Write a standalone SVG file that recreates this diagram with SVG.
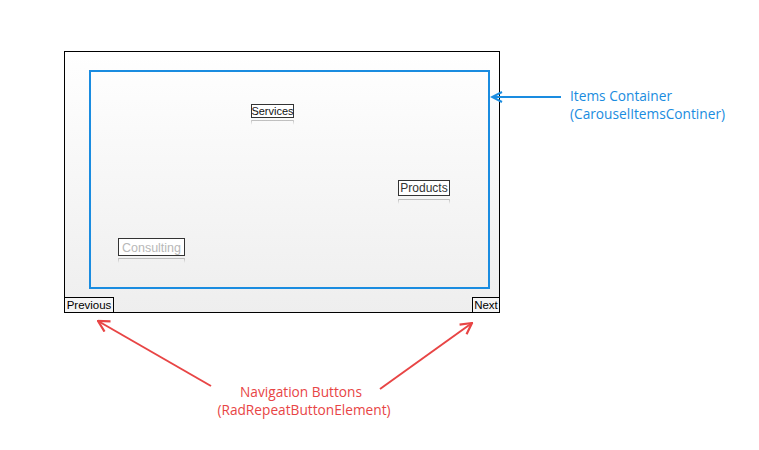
<svg xmlns="http://www.w3.org/2000/svg" width="759" height="450" viewBox="0 0 759 450">
<defs>
<linearGradient id="bg" x1="0" y1="0" x2="0" y2="1">
<stop offset="0" stop-color="#ffffff"/>
<stop offset="1" stop-color="#eeeeee"/>
</linearGradient>
<linearGradient id="refl" x1="0" y1="0" x2="0" y2="1">
<stop offset="0" stop-color="#999" stop-opacity="0.6"/>
<stop offset="1" stop-color="#999" stop-opacity="0"/>
</linearGradient>
<marker id="blueHead" viewBox="0 0 14 14" refX="12" refY="7" markerWidth="14" markerHeight="14" markerUnits="userSpaceOnUse" orient="auto">
<path d="M2,2 L12,7 L2,12" fill="none" stroke="#1a8ce0" stroke-width="2"/>
</marker>
<marker id="redHead" viewBox="0 0 14 14" refX="13" refY="7" markerWidth="14" markerHeight="14" markerUnits="userSpaceOnUse" orient="auto">
<path d="M2,1 L13,7 L2,13" fill="none" stroke="#e84545" stroke-width="2.2"/>
</marker>
</defs>
<style>
.item{fill:#ffffff;stroke:#333;stroke-width:1}
.itxt{font-family:"Liberation Sans",Arial,sans-serif;font-size:11px;fill:#111}
.btn{fill:#f4f4f4;stroke:#000;stroke-width:1}
.btxt{font-family:"Liberation Sans",Arial,sans-serif;font-size:11.5px;fill:#000}
.note{font-family:"Open Sans","Noto Sans",sans-serif;font-size:13.7px}
.blue{fill:#1a8ce0}
.red{fill:#e84545}
.rf{fill:none;stroke:url(#refl);stroke-width:1}
</style>
<g id="carousel">
<rect x="64.5" y="51.5" width="435" height="261" fill="url(#bg)" stroke="#000" stroke-width="1"/>
</g>
<g id="items-container">
<rect x="90" y="71" width="399" height="217" fill="none" stroke="#1a8ce0" stroke-width="2"/>
</g>
<g id="item-services">
<rect class="item" x="251.5" y="104.5" width="42" height="13"/>
<text class="itxt" x="272.5" y="115" text-anchor="middle">Services</text>
<path class="rf" d="M251.5,125 V120.5 H293.5 V125"/>
</g>
<g id="item-products">
<rect class="item" x="398.5" y="180.5" width="51" height="15" stroke="#555"/>
<text class="itxt" x="424" y="192" text-anchor="middle" style="font-size:12px;fill:#333">Products</text>
<path class="rf" d="M398.5,204 V199.5 H449.5 V204"/>
</g>
<g id="item-consulting">
<rect class="item" x="118.5" y="238.5" width="66" height="17" stroke="#aaa" fill="#f8f8f8"/>
<text class="itxt" x="151.5" y="251.5" text-anchor="middle" style="font-size:12.5px;fill:#b8b8b8">Consulting</text>
<path class="rf" d="M118.5,263 V258.5 H184.5 V263"/>
</g>
<g id="btn-previous">
<rect class="btn" x="64.5" y="297.5" width="49" height="15"/>
<text class="btxt" x="89" y="309" text-anchor="middle">Previous</text>
</g>
<g id="btn-next">
<rect class="btn" x="472.5" y="297.5" width="27" height="15"/>
<text class="btxt" x="486" y="309" text-anchor="middle">Next</text>
</g>
<g id="connectors">
<line x1="561" y1="97" x2="492" y2="97" stroke="#1a8ce0" stroke-width="2" marker-end="url(#blueHead)"/>
<line x1="211" y1="386" x2="98" y2="321" stroke="#e84545" stroke-width="2" marker-end="url(#redHead)"/>
<line x1="380" y1="389" x2="472" y2="323" stroke="#e84545" stroke-width="2" marker-end="url(#redHead)"/>
</g>
<g id="label-items">
<text class="note blue" x="570" y="101">Items Container</text>
<text class="note blue" x="570" y="119">(CarouselItemsContiner)</text>
</g>
<g id="label-nav">
<text class="note red" x="301" y="397" text-anchor="middle">Navigation Buttons</text>
<text class="note red" x="304" y="415" text-anchor="middle">(RadRepeatButtonElement)</text>
</g>
</svg>
